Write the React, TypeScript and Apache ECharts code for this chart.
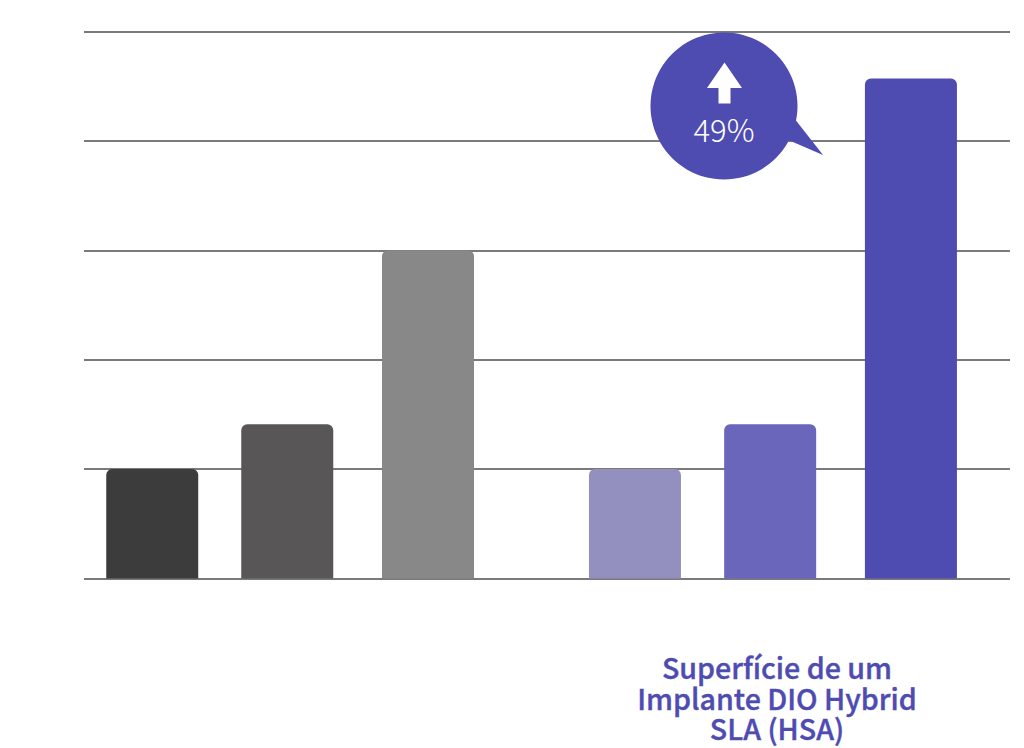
import React, { useEffect, useRef } from "react";
import * as echarts from "echarts";

const barLabels = ["A1", "A2", "A3", "B1", "B2", "B3"];
const barSlots = [7.37, 21.95, 37.15, 59.5, 74.1, 89.3];
const barValues = [1, 1.41, 3, 1, 1.41, 4.57];
const barColors = ["#3c3c3c", "#585657", "#888888", "#9390bf", "#6966bc", "#4e4bb1"];
const yTicks = [0, 1, 2, 3, 4, 5];
const captionLines = ["Superfície de um", "Implante DIO Hybrid", "SLA (HSA)"];
const calloutText = "49%";

const FONT = '"Noto Sans CJK KR", "Noto Sans", sans-serif';
const PURPLE = "#4e4bb1";

export default function App() {
  const ref = useRef<HTMLDivElement>(null);
  useEffect(() => {
    document.body.style.margin = "0";
    const chart = echarts.init(ref.current!, null, { renderer: "svg" });
    chart.setOption({
      animation: false,
      backgroundColor: "#ffffff",
      grid: { left: 84, right: 14, top: 31.5, height: 547, containLabel: false },
      xAxis: {
        type: "value",
        min: 0,
        max: 100,
        show: false,
        splitLine: { show: false },
      },
      yAxis: {
        type: "value",
        min: yTicks[0],
        max: yTicks[yTicks.length - 1],
        interval: 1,
        axisLabel: { show: false },
        axisTick: { show: false },
        axisLine: { show: false },
        splitLine: { show: true, lineStyle: { color: "#4e4e4e", width: 1.5 } },
      },
      series: [
        {
          type: "bar",
          barWidth: 92,
          itemStyle: { borderRadius: [6, 6, 0, 0] },
          data: barValues.map((v, i) => ({
            name: barLabels[i],
            value: [barSlots[i], v],
            itemStyle: { color: barColors[i] },
          })),
          z: 3,
        },
      ],
      graphic: [
        { type: "polygon", z: 10, shape: { points: [[794, 118], [823, 155], [786, 139]] }, style: { fill: PURPLE } },
        { type: "circle", z: 10, shape: { cx: 724, cy: 106, r: 73.5 }, style: { fill: PURPLE } },
        {
          type: "polygon",
          z: 11,
          shape: {
            points: [[724.5, 62.5], [742, 88], [730.5, 88], [730.5, 103.5], [718.5, 103.5], [718.5, 88], [707, 88]],
          },
          style: { fill: "#ffffff" },
        },
        {
          type: "text",
          z: 11,
          x: 724,
          y: 128,
          style: {
            text: calloutText,
            fill: "#ffffff",
            font: `300 31px ${FONT}`,
            textAlign: "center",
            textVerticalAlign: "middle",
          },
        },
        {
          type: "text",
          z: 11,
          x: 777,
          y: 697,
          style: {
            text: captionLines.join("\n"),
            fill: PURPLE,
            stroke: PURPLE,
            lineWidth: 0.4,
            font: `500 28.6px ${FONT}`,
            lineHeight: 30.5,
            textAlign: "center",
            textVerticalAlign: "middle",
          },
        },
      ],
    });
    return () => chart.dispose();
  }, []);
  return <div ref={ref} style={{ width: 1024, height: 748 }} />;
}
